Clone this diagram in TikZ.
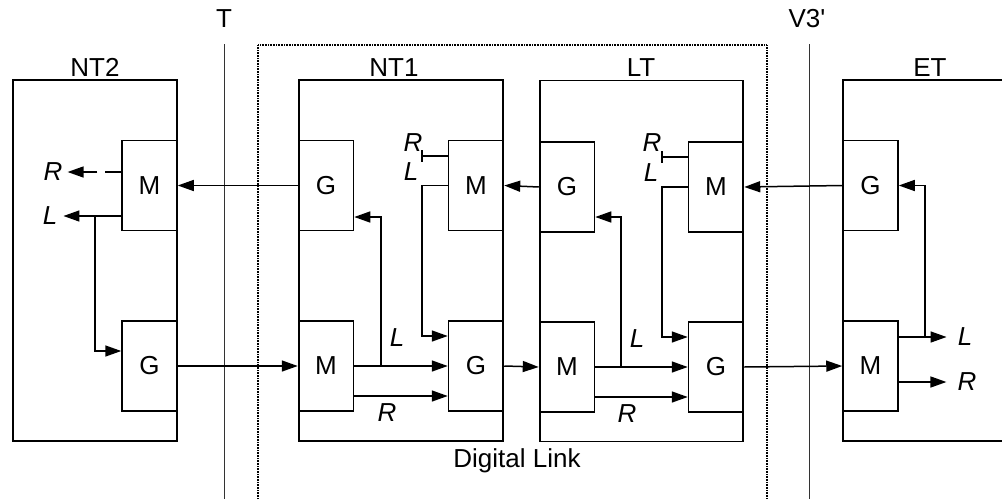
\documentclass[tikz,border=0pt]{standalone}
\usepackage{fontspec}
\setmainfont{Liberation Sans}[Ligatures=TeXOff]
\usetikzlibrary{arrows.meta}
\begin{document}
\begin{tikzpicture}[x=1pt,y=-1pt,
  blk/.style={draw,line width=1.5pt,minimum width=55pt,minimum height=90pt,inner sep=0pt,font=\fontsize{26}{30}\selectfont},
  unit/.style={draw,line width=1.5pt,inner sep=0pt},
  lbl/.style={font=\fontsize{26}{30}\selectfont,inner sep=0pt,anchor=base},
  sig/.style={font=\fontsize{26}{30}\selectfont\itshape,inner sep=0pt},
  wire/.style={line width=1.5pt},
  arr/.style={wire,-{Triangle[length=16pt,width=11pt]}},
  refline/.style={line width=1pt,black!80},
  linkbox/.style={line width=1.3pt,dash pattern=on 1pt off 0.6pt}
]
\useasboundingbox (0,0) rectangle (1002,499);

% reference lines and digital link
\draw[refline] (224,44) -- (224,499);
\draw[refline] (809,44) -- (809,499);
\draw[linkbox] (258,499) -- (258,45) -- (767,45) -- (767,499);
\node[lbl] (tl) at (224,27) {T};
\node[lbl] (vl) at (807,27) {V3'};
\node[lbl] (dl) at (517,467) {Digital Link};

% outer units
\node[unit,minimum width=164pt,minimum height=361pt] (nt2) at (95,260.5) {};
\node[unit,minimum width=204pt,minimum height=361pt] (nt1) at (401,260.5) {};
\node[unit,minimum width=203pt,minimum height=361pt] (lt) at (641.5,261) {};
\draw[wire] (1004,80) -- (843,80) -- (843,441) -- (1004,441);
\node[lbl] (nt2l) at (95,76) {NT2};
\node[lbl] (nt1l) at (394,76) {NT1};
\node[lbl] (ltl) at (641,76) {LT};
\node[lbl] (etl) at (930,76) {ET};

% blocks
\node[blk] (nt2M) at (149.5,185.5) {M};
\node[blk] (nt2G) at (149.5,366) {G};
\node[blk] (nt1G1) at (326,185.5) {G};
\node[blk] (nt1M1) at (476,185.5) {M};
\node[blk] (nt1M2) at (326,366) {M};
\node[blk] (nt1G2) at (476,366) {G};
\node[blk] (ltG1) at (567,187) {G};
\node[blk] (ltM1) at (716,187) {M};
\node[blk] (ltM2) at (567,367) {M};
\node[blk] (ltG2) at (716,367) {G};
\node[blk] (etG) at (870.5,185.5) {G};
\node[blk] (etM) at (870.5,366) {M};

% NT2
\node[sig] (nt2R) at (53,172) {R};
\node[sig] (nt2L) at (50,216) {L};
\draw[arr,dash pattern=on 16pt off 8pt,shorten >=5pt] (nt2M.west |- nt2R) -- (nt2R.east);
\draw[arr,shorten >=6pt] (nt2M.west |- nt2L) -- (nt2L.east);
\coordinate (nt2c) at (95,216);
\coordinate (nt2d) at (95,351);
\draw[arr] (nt2c) -- (nt2d) -- (nt2G.west |- nt2d);
\draw[arr] (nt1G1.west) -- (nt2M.east);
\draw[arr] (nt2G.east) -- (nt1M2.west);

% NT1
\node[sig] (nt1R) at (413,143) {R};
\node[sig] (nt1L) at (411,172) {L};
\coordinate (nt1tk) at (422,156);
\draw[wire] (nt1M1.west |- nt1tk) -- (nt1tk);
\draw[wire] ([yshift=6pt]nt1tk) -- ([yshift=-6pt]nt1tk);
\coordinate (nt1c) at (422,336);
\draw[arr] (nt1M1.west) -| (nt1c) -- (nt1G2.west |- nt1c);
\draw[arr] (nt1M2.east) -- (nt1G2.west);
\coordinate (nt1f) at (381,217);
\draw[arr] (nt1f |- nt1M2.east) -- (nt1f) -- (nt1G1.east |- nt1f);
\coordinate (nt1r) at (353,396);
\draw[arr] (nt1M2.east |- nt1r) -- (nt1G2.west |- nt1r);
\node[sig] (nt1Ll) at (397,338) {L};
\node[sig] (nt1Rl) at (387,413) {R};
\draw[arr] (ltG1.west) -- (nt1M1.east);
\draw[arr] (nt1G2.east) -- (ltM2.west);

% LT
\node[sig] (ltR) at (652,143) {R};
\node[sig] (ltL) at (651,173) {L};
\coordinate (lttk) at (662,157);
\draw[wire] (ltM1.west |- lttk) -- (lttk);
\draw[wire] ([yshift=6pt]lttk) -- ([yshift=-6pt]lttk);
\coordinate (ltc) at (662,337);
\draw[arr] (ltM1.west) -| (ltc) -- (ltG2.west |- ltc);
\draw[arr] (ltM2.east) -- (ltG2.west);
\coordinate (ltf) at (621,217);
\draw[arr] (ltf |- ltM2.east) -- (ltf) -- (ltG1.east |- ltf);
\coordinate (ltr) at (594,397);
\draw[arr] (ltM2.east |- ltr) -- (ltG2.west |- ltr);
\node[sig] (ltLl) at (637,339) {L};
\node[sig] (ltRl) at (627,414) {R};
\draw[arr] (etG.west) -- (ltM1.east);
\draw[arr] (ltG2.east) -- (etM.west);

% ET
\node[sig] (etL) at (965,337) {L};
\node[sig] (etR) at (967,382) {R};
\draw[arr,shorten >=11pt] (etM.east |- etL) -- (etL.west);
\draw[arr,shorten >=11pt] (etM.east |- etR) -- (etR.west);
\coordinate (etf) at (925,337);
\draw[arr] (etf) -- (etf |- etG.east) -- (etG.east);
\end{tikzpicture}
\end{document}
